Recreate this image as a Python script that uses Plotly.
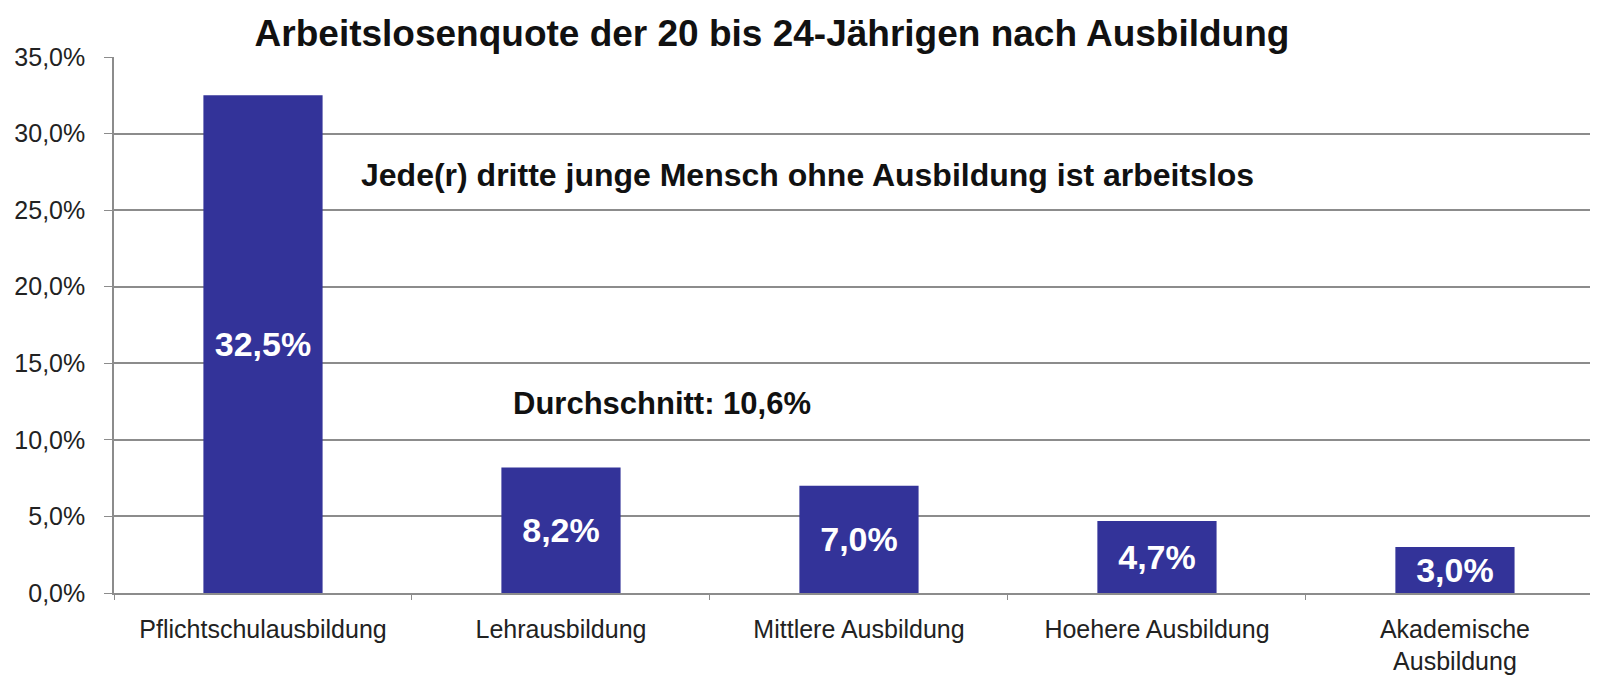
import plotly.graph_objects as go

categories = ["Pflichtschulausbildung", "Lehrausbildung", "Mittlere Ausbildung",
              "Hoehere Ausbildung", "Akademische<br>Ausbildung"]
values = [32.5, 8.2, 7.0, 4.7, 3.0]
y_ticks = [0, 5, 10, 15, 20, 25, 30, 35]
y_tick_labels = [f"{v:.1f}%".replace(".", ",") for v in y_ticks]

title_text = "Arbeitslosenquote der 20 bis 24-Jährigen nach Ausbildung"
note_main = "Jede(r) dritte junge Mensch ohne Ausbildung ist arbeitslos"
note_avg = "Durchschnitt: 10,6%"

FONT = "Liberation Sans, Arial, sans-serif"
BAR_COLOR = "#333399"
GRID = "#8c8c8c"

fig = go.Figure(go.Bar(
    x=categories, y=values,
    marker=dict(color=BAR_COLOR, line=dict(width=0)),
    width=0.4,
    texttemplate="%{y:.1f}%",
    textposition="inside",
    insidetextanchor="middle",
    textangle=0,
    textfont=dict(family=FONT, size=34, color="white", weight="bold"),
    cliponaxis=False,
))

fig.update_layout(
    width=1590, height=669,
    margin=dict(l=106, r=0, t=49, b=84, autoexpand=False),
    paper_bgcolor="white", plot_bgcolor="white",
    separators=",.",
    showlegend=False,
    font=dict(family=FONT, color="#222222"),
    title=dict(text=title_text, x=0.4805, xanchor="center", y=0.962, yanchor="middle",
               font=dict(family=FONT, size=37, color="#111111", weight="bold")),
)

fig.update_xaxes(
    range=[-0.5, 4.48],
    automargin=False,
    showgrid=False,
    showline=True, linecolor=GRID, linewidth=1.5,
    ticks="outside", tickson="boundaries", ticklen=5, tickcolor=GRID,
    tickfont=dict(family=FONT, size=25, color="#222222"),
    ticklabelstandoff=13,
)
fig.update_yaxes(
    range=[0, 35],
    automargin=False,
    tickvals=y_ticks, ticktext=y_tick_labels,
    showgrid=True, gridcolor=GRID, gridwidth=1.5,
    showline=True, linecolor=GRID, linewidth=1.5,
    ticks="outside", ticklen=8, tickcolor=GRID,
    tickfont=dict(family=FONT, size=25, color="#222222"),
    ticklabelstandoff=14,
    zeroline=False,
)

fig.add_annotation(text=note_main, xref="paper", yref="y", x=0.467, y=27.3,
                   xanchor="center", yanchor="middle", showarrow=False,
                   font=dict(family=FONT, size=32, color="#111111", weight="bold"))
fig.add_annotation(text=note_avg, xref="x", yref="y", x=1.34, y=12.4,
                   xanchor="center", yanchor="middle", showarrow=False,
                   font=dict(family=FONT, size=31, color="#111111", weight="bold"))

fig.write_html("out.html")
